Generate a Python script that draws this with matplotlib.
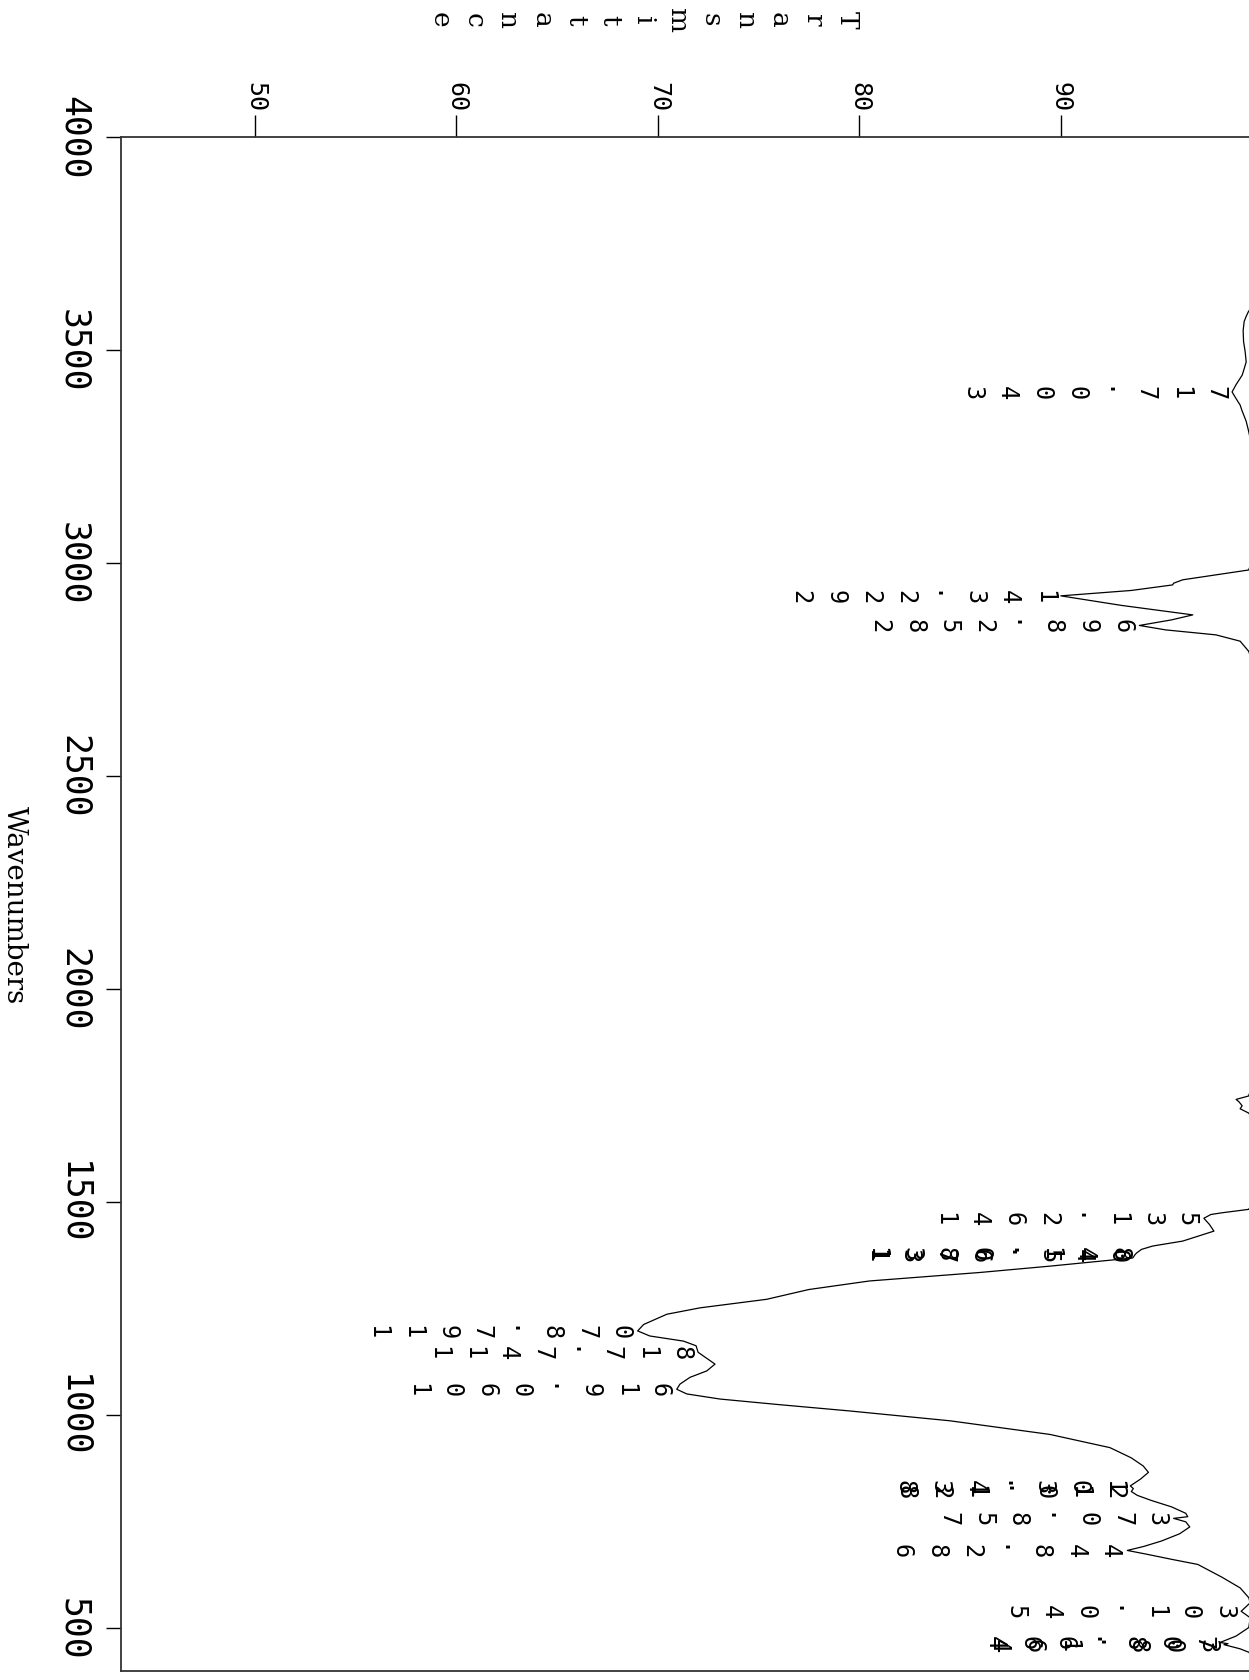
import matplotlib
matplotlib.use("Agg")
import matplotlib.pyplot as plt
import numpy as np

# ---- spectrum trace (wavenumber in cm-1, %T) ----
wavenumber = [4000, 3900, 3800, 3700, 3640, 3600, 3590, 3578, 3566, 3545, 3519, 3495,
              3471, 3455, 3440, 3418, 3400.717, 3385, 3370, 3356, 3332, 3309, 3280,
              3220, 3150, 3080, 3030, 2998, 2983, 2971.5, 2960, 2952, 2948, 2935,
              2922.341, 2900, 2877.7, 2866, 2852.896, 2842.5, 2830.8, 2816, 2792.6,
              2770, 2700, 2500, 2300, 2100, 1900, 1790, 1760, 1749, 1741, 1735, 1726,
              1719, 1709, 1695, 1600, 1520, 1495, 1483, 1475, 1471, 1462.135, 1448,
              1432, 1408.6, 1397, 1389, 1380.148, 1376.5, 1369, 1350, 1335, 1315, 1295,
              1272, 1252, 1237, 1213, 1197.870, 1186, 1174, 1163, 1147.718, 1120,
              1104, 1089, 1073, 1060.916, 1050, 1038, 1025, 1010, 987, 955, 924, 900,
              881, 866, 850, 834.301, 828, 821.012, 812, 800, 785, 770, 762, 758.073,
              750, 738, 722, 705, 692, 682.844, 674, 662, 650, 620, 595, 572, 560,
              540.103, 525, 502, 482, 466.807, 464, 461.803, 452, 444, 430, 400]
transmittance = [100.9, 100.7, 100.5, 100.2, 99.8, 99.5, 99.32, 99.2, 99.1, 99.05, 99.07,
                 99.15, 99.2, 99.1, 99.0, 98.7, 98.5, 98.7, 98.9, 99.0, 99.2, 99.32,
                 99.45, 99.6, 99.7, 99.7, 99.6, 99.45, 99.32, 97.7, 96.05, 95.6, 95.55,
                 93.5, 90.0, 93.0, 96.55, 95.5, 93.9, 95.2, 97.7, 98.9, 99.32, 99.5,
                 99.7, 99.8, 99.8, 99.75, 99.7, 99.6, 99.4, 99.32, 98.7, 98.85, 99.0,
                 98.9, 99.32, 99.55, 99.7, 99.65, 99.5, 99.32, 98.0, 97.45, 97.1, 97.37,
                 97.6, 96.05, 94.56, 94.0, 93.75, 93.68, 93.57, 89.5, 86.0, 80.5, 77.5,
                 75.4, 72.1, 70.45, 69.3, 69.0, 69.6, 71.27, 71.9, 72.0, 72.84, 72.43,
                 71.6, 71.1, 70.94, 71.44, 73.09, 76.0, 79.54, 84.5, 89.46, 92.44, 93.5,
                 94.09, 94.35, 93.95, 93.45, 93.6, 93.5, 93.8, 94.5, 95.5, 96.2, 96.3,
                 95.6, 96.2, 96.4, 95.9, 95.0, 94.1, 93.3, 94.26, 95.5, 96.8, 98.0,
                 98.9, 99.33, 99.4, 98.95, 99.4, 99.33, 98.7, 97.9, 98.3, 98.1, 98.9,
                 99.33, 99.6, 99.8]

# ---- peak annotations ----
peak_wn = [3400.717, 2922.341, 2852.896, 1462.135, 1380.148, 1376.540, 1197.870,
           1147.718, 1060.916, 834.301, 821.012, 758.073, 682.844, 540.103, 466.807,
           461.803]
peak_text = ["3400.717", "2922.341", "2852.896", "1462.135", "1380.148", "1376.540",
             "1197.870", "1147.718", "1060.916", "834.301", "821.012", "758.073",
             "682.844", "540.103", "466.807", "461.803"]

# ---- axes ----
wn_ticks = [4000, 3500, 3000, 2500, 2000, 1500, 1000, 500]
t_ticks = [50, 60, 70, 80, 90]
wn_range = (400, 4000)
t_range = (43.36, 103.0)

W, H = 1249, 1681
fig = plt.figure(figsize=(W / 100, H / 100), dpi=100)
fig.patch.set_facecolor("white")

left_px, top_px, bottom_px = 121, 137.5, 1672.0
px_per_t = 20.15
right_px = left_px + (t_range[1] - t_range[0]) * px_per_t
ax = fig.add_axes([left_px / W, 1 - bottom_px / H,
                   (right_px - left_px) / W, (bottom_px - top_px) / H])
ax.set_xlim(*t_range)
ax.set_ylim(*wn_range)

ax.plot(transmittance, wavenumber, color="black", lw=0.9)

for s in ("left", "top", "bottom"):
    ax.spines[s].set_linewidth(1.3)
    ax.spines[s].set_color("#333333")
ax.spines["right"].set_visible(False)

ax.xaxis.tick_top()
ax.set_xticks(t_ticks)
ax.set_xticklabels([str(t) for t in t_ticks], rotation=-90, fontsize=18,
                   family="DejaVu Sans Mono", va="bottom", ha="center")
ax.tick_params(axis="x", direction="out", length=16, width=1.0, pad=2, colors="black")

ax.set_yticks(wn_ticks)
ax.set_yticklabels([str(w) for w in wn_ticks], rotation=-90, fontsize=25,
                   family="DejaVu Sans Mono", va="center", ha="right")
ax.tick_params(axis="y", direction="out", length=11, width=1.0, pad=11, colors="black")

# axis title along the wavenumber axis
fig.text(14 / W, 1 - 905 / H, "Wavenumbers", rotation=-90, ha="center", va="center",
         fontsize=20, family="DejaVu Serif")

# stacked transmittance title
title = "Transmittance"
t_right, t_left, t_y = 847, 440, 20
step = (t_right - t_left) / (len(title) - 1)
for i, ch in enumerate(title):
    fig.text((t_right - i * step) / W, 1 - t_y / H, ch, rotation=-90, ha="center",
             va="center", fontsize=19, family="DejaVu Serif")

# stacked peak labels, left of each band minimum
wn_asc = np.array(wavenumber[::-1])
t_asc = np.array(transmittance[::-1])
GAP, CH, STEP = 6.5, 11.5, 25.0   # points
for wn, txt in zip(peak_wn, peak_text):
    t_tip = float(np.interp(wn, wn_asc, t_asc))
    n = len(txt)
    for i, ch in enumerate(txt):
        dx = -(GAP + CH / 2 + (n - 1 - i) * STEP)
        ax.annotate(ch, xy=(t_tip, wn), xytext=(dx, 0), textcoords="offset points",
                    rotation=-90, ha="center", va="center", fontsize=17,
                    family="DejaVu Sans Mono", annotation_clip=False)

fig.savefig("out.png", dpi=100)
